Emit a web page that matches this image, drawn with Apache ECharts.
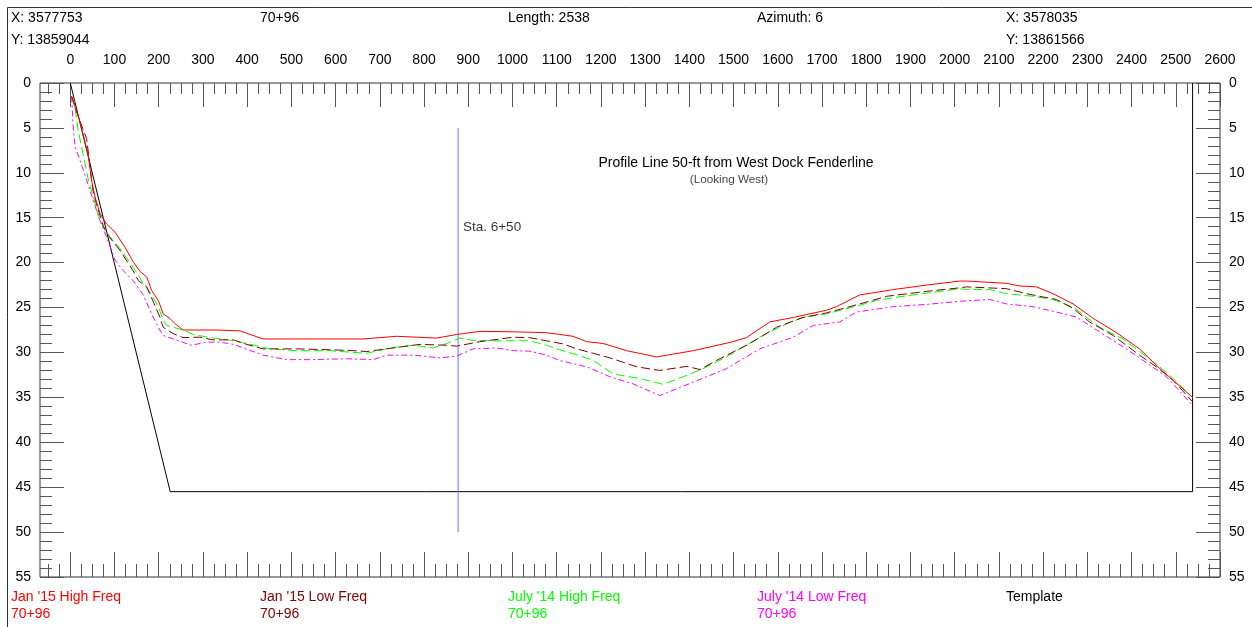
<!DOCTYPE html>
<html>
<head>
<meta charset="utf-8">
<script src="https://cdn.jsdelivr.net/npm/echarts@6/dist/echarts.min.js"></script>
<style>
html,body{margin:0;padding:0;background:#fff;}
#chart{width:1252px;height:627px;}
</style>
</head>
<body>
<div id="chart"></div>
<script>
// ---- data (distance along profile, depth) ----
var jan15High = [[3,1.5],[20,4],[33,6.5],[41,8.2],[48,10.8],[56,12.7],[67,14.5],[82,15.7],[101,16.6],[124,18.3],[142,19.9],[158,21.0],[173,21.6],[184,23.1],[199,24.2],[210,25.7],[225,26.2],[237,26.8],[255,27.5],[293,27.5],[331,27.5],[384,27.6],[436,28.5],[512,28.5],[587,28.5],[662,28.5],[738,28.2],[828,28.4],[874,28.0],[926,27.65],[1002,27.7],[1077,27.8],[1107,28.0],[1137,28.2],[1168,28.8],[1205,29.0],[1258,29.8],[1326,30.5],[1409,29.8],[1499,28.8],[1529,28.35],[1582,26.6],[1635,26.1],[1710,25.3],[1733,24.9],[1785,23.6],[1861,23.0],[1936,22.5],[2012,22.05],[2027,22.05],[2117,22.3],[2147,22.6],[2185,22.7],[2222,23.45],[2268,24.6],[2313,26.2],[2366,27.8],[2418,29.6],[2464,31.8],[2494,33.1],[2538,35.0]];
var jan15Low = [[3,1.5],[20,4],[37,6.2],[51,11.9],[60,13.6],[75,16.0],[86,17.0],[112,18.6],[142,20.9],[154,22.0],[173,22.7],[188,24.4],[203,26.1],[210,27.2],[233,27.9],[255,28.35],[293,28.3],[323,28.6],[369,28.6],[399,29.1],[436,29.6],[512,29.6],[587,29.7],[640,29.8],[670,29.9],[715,29.6],[791,29.1],[851,29.2],[874,29.3],[926,28.8],[1002,28.3],[1039,28.35],[1077,28.7],[1115,29.05],[1145,29.6],[1183,30.1],[1220,30.6],[1281,31.6],[1333,32.0],[1394,31.55],[1424,31.9],[1461,30.9],[1537,29.0],[1597,27.2],[1657,26.1],[1710,25.6],[1785,24.6],[1846,23.75],[1936,23.2],[2012,22.8],[2027,22.7],[2117,22.9],[2162,23.45],[2192,23.75],[2230,24.1],[2268,25.1],[2305,26.6],[2358,28.1],[2418,30.3],[2456,31.6],[2494,33.1],[2538,35.5]];
var jul14High = [[3,1.5],[8,1.9],[18,5.3],[30,8.2],[41,10.8],[56,13.4],[67,15.3],[90,17.15],[112,18.4],[142,20.5],[165,22.3],[184,23.6],[199,24.9],[210,26.35],[218,27.0],[233,27.2],[255,27.5],[278,28.0],[323,28.4],[346,28.5],[399,29.0],[451,29.6],[512,29.8],[587,29.8],[670,30.1],[723,29.5],[776,29.2],[821,29.5],[851,29.0],[881,28.4],[911,28.65],[964,28.7],[1039,28.7],[1077,29.2],[1107,29.7],[1145,30.25],[1183,30.9],[1228,32.4],[1288,32.9],[1341,33.55],[1394,32.55],[1431,31.8],[1484,30.5],[1559,28.3],[1620,26.8],[1657,26.1],[1710,25.7],[1785,24.75],[1823,24.2],[1861,23.9],[1936,23.4],[2012,22.9],[2027,23.0],[2079,23.0],[2117,23.45],[2177,23.75],[2222,24.1],[2268,24.95],[2328,27.2],[2381,28.5],[2434,30.5],[2479,32.2],[2494,32.9],[2538,35.0]];
var jul14Low = [[3,1.5],[5,1.6],[7,5.3],[11,7.1],[22,8.6],[37,10.8],[52,13.1],[67,15.3],[82,17.15],[101,19.7],[120,20.9],[142,22.0],[165,23.6],[184,25.7],[199,27.2],[210,28.1],[233,28.5],[274,29.2],[308,28.85],[338,28.85],[369,29.1],[436,30.3],[489,30.8],[549,30.8],[625,30.7],[685,30.8],[715,30.3],[776,30.3],[836,30.6],[874,30.4],[911,29.6],[964,29.5],[1002,29.8],[1039,29.85],[1077,30.3],[1107,30.9],[1168,31.6],[1220,32.7],[1273,33.5],[1333,34.8],[1409,33.3],[1484,31.8],[1559,29.6],[1635,28.3],[1680,27.0],[1740,26.6],[1778,25.5],[1861,24.9],[1936,24.65],[2012,24.3],[2079,24.1],[2117,24.6],[2177,24.9],[2230,25.5],[2275,26.05],[2305,27.0],[2358,28.65],[2403,30.1],[2441,31.4],[2479,32.7],[2538,35.9]];
var templateDist = [0, 226, 2538, 2538];
var templateDepth = [0, 45.5, 45.5, 0];
var stationDist = [877, 877];
var stationDepth = [5, 50];
var stationLabel = [[888, 16.1]];

var xMajorTicks = [0,100,200,300,400,500,600,700,800,900,1000,1100,1200,1300,1400,1500,1600,1700,1800,1900,2000,2100,2200,2300,2400,2500,2600];
var xMinorTicks = [];
for (var v = -50; v < 2600; v += 25) { if (v % 100 !== 0) xMinorTicks.push(v); }

var headerTexts = [
  ['X: 3577753', 'Y: 13859044'],
  ['70+96', ''],
  ['Length: 2538', ''],
  ['Azimuth: 6', ''],
  ['X: 3578035', 'Y: 13861566']
];
var legendNames = ["Jan '15 High Freq", "Jan '15 Low Freq", "July '14 High Freq", "July '14 Low Freq", "Template"];
var legendSub = ['70+96', '70+96', '70+96', '70+96', ''];
var legendColors = ['#ff0000', '#800000', '#00ff00', '#ff00ff', '#000000'];
var titleMain = 'Profile Line 50-ft from West Dock Fenderline';
var titleSub = '(Looking West)';

function zip(a, b) { return a.map(function (x, i) { return [x, b[i]]; }); }

var FONT = '"Liberation Sans", Arial, sans-serif';
var colX = [11, 260, 508, 757, 1006];
var graphics = [{
  type: 'rect', shape: { x: 7.5, y: 7.5, width: 1260, height: 640 },
  style: { fill: null, stroke: '#333', lineWidth: 1 }, silent: true
}];
headerTexts.forEach(function (h, i) {
  graphics.push({ type: 'text', x: colX[i], y: 18, style: { text: h[0], font: '14px ' + FONT, fill: '#000', verticalAlign: 'middle' } });
  if (h[1]) graphics.push({ type: 'text', x: colX[i], y: 40, style: { text: h[1], font: '14px ' + FONT, fill: '#000', verticalAlign: 'middle' } });
});
legendNames.forEach(function (n, i) {
  graphics.push({ type: 'text', x: colX[i], y: 597, style: { text: n, font: '14px ' + FONT, fill: legendColors[i], verticalAlign: 'middle' } });
  if (legendSub[i]) graphics.push({ type: 'text', x: colX[i], y: 614, style: { text: legendSub[i], font: '14px ' + FONT, fill: legendColors[i], verticalAlign: 'middle' } });
});
graphics.push({ type: 'text', x: 736, y: 163, style: { text: titleMain, font: '14px ' + FONT, fill: '#000', align: 'center', verticalAlign: 'middle' } });
graphics.push({ type: 'text', x: 729, y: 180, style: { text: titleSub, font: '11.7px ' + FONT, fill: '#444', align: 'center', verticalAlign: 'middle' } });

var tickColor = '#555';
function xAx(pos, values, len, labels) {
  return {
    type: 'value', position: pos, min: -68.5, max: 2600, gridIndex: 0,
    axisLine: { show: false, onZero: false }, splitLine: { show: false },
    axisTick: { show: true, inside: true, length: len, customValues: values, lineStyle: { color: tickColor, width: 1 } },
    axisLabel: labels ? { show: true, customValues: values, fontSize: 14, fontFamily: FONT, color: '#000', margin: 16, formatter: function (val) { return String(val); } } : { show: false }
  };
}
function yAx(pos) {
  return {
    type: 'value', position: pos, inverse: true, min: 0, max: 55, interval: 5, gridIndex: 0,
    axisLine: { show: false, onZero: false }, splitLine: { show: false },
    axisTick: { show: true, inside: true, length: 24, lineStyle: { color: tickColor, width: 1 } },
    minorTick: { show: true, splitNumber: 5, length: 12, lineStyle: { color: tickColor, width: 1 } },
    axisLabel: { show: true, fontSize: 14, fontFamily: FONT, color: '#000', margin: 9 }
  };
}

var chart = echarts.init(document.getElementById('chart'), null, { renderer: 'canvas' });
chart.setOption({
  animation: false,
  backgroundColor: '#fff',
  grid: { left: 40, right: 32, top: 83, bottom: 50, show: true, borderColor: '#333', borderWidth: 1, backgroundColor: 'transparent' },
  xAxis: [xAx('top', xMajorTicks, 24, true), xAx('top', xMinorTicks, 11, false), xAx('bottom', xMajorTicks, 25, false), xAx('bottom', xMinorTicks, 13, false)],
  yAxis: [yAx('left'), yAx('right')],
  graphic: graphics,
  series: [
    { type: 'line', name: 'Template', data: zip(templateDist, templateDepth), showSymbol: false, lineStyle: { color: '#000', width: 1 }, z: 2 },
    { type: 'line', name: 'Station', data: zip(stationDist, stationDepth), showSymbol: false, lineStyle: { color: '#7070ff', width: 1 }, z: 2 },
    { type: 'scatter', data: stationLabel, symbolSize: 0, label: { show: true, position: 'right', distance: 0, formatter: 'Sta. 6+50', fontSize: 13.5, fontFamily: FONT, color: '#000' } },
    { type: 'line', name: legendNames[3], data: jul14Low, showSymbol: false, lineStyle: { color: '#ff00ff', width: 1, type: [6, 3, 2, 3] }, z: 3 },
    { type: 'line', name: legendNames[2], data: jul14High, showSymbol: false, lineStyle: { color: '#00ff00', width: 1, type: [9, 4] }, z: 4 },
    { type: 'line', name: legendNames[1], data: jan15Low, showSymbol: false, lineStyle: { color: '#800000', width: 1, type: [9, 4] }, z: 5 },
    { type: 'line', name: legendNames[0], data: jan15High, showSymbol: false, lineStyle: { color: '#ff0000', width: 1 }, z: 6 }
  ]
});
</script>
</body>
</html>
